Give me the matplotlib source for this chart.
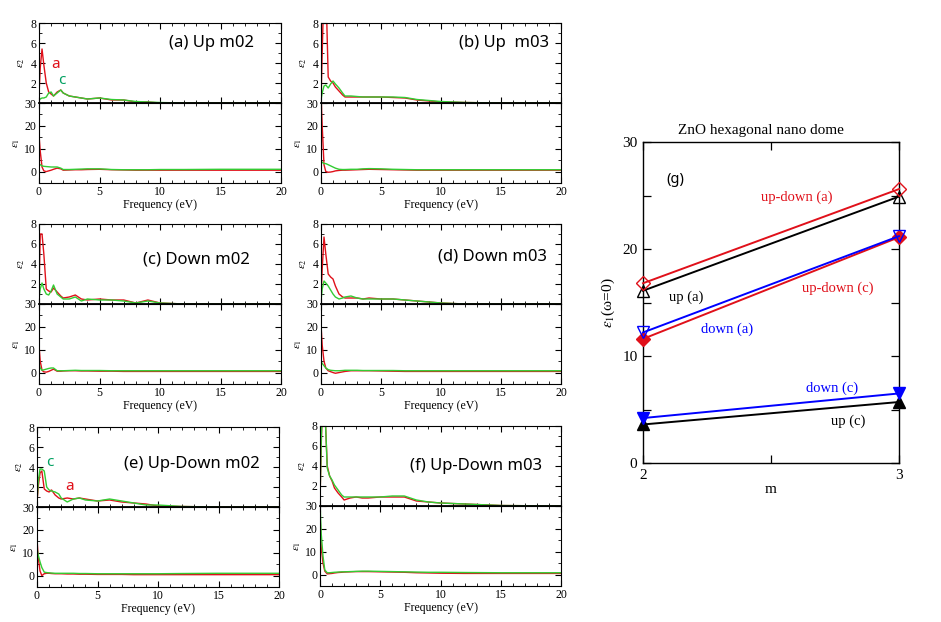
import matplotlib
matplotlib.use("Agg")
import matplotlib.pyplot as plt
from matplotlib.ticker import MultipleLocator, FixedLocator

plt.rcParams["font.family"] = ["Liberation Serif", "DejaVu Serif"]
plt.rcParams["mathtext.fontset"] = "stix"

W, H = 941, 622          # output size in pixels (dpi 100)
RED = "#e0101a"
GREEN = "#33cc33"
SANS = ["Noto Sans", "DejaVu Sans"]

# ─────────────────────────────────────────────────────────────────────
# dielectric spectra (a = red, c = green)
FREQ = [0, 0.1, 0.25, 0.4, 0.6, 0.8, 1.0, 1.2, 1.5, 1.8, 2.0, 2.5,
        3.0, 3.5, 4.0, 5.0, 6.0, 7.0, 8.0, 9.0, 10.0, 12.0, 15.0, 20.0]

UP_M02_E2_A = [0.8, 3.5, 5.4, 3.8, 2.0, 1.1, 0.9, 0.7, 1.1, 1.3, 1.0, 0.7,
               0.6, 0.5, 0.4, 0.5, 0.3, 0.3, 0.1, 0.1, 0.0, 0.0, 0.0, 0.0]
UP_M02_E2_C = [0.3, 0.4, 0.5, 0.5, 0.6, 1.0, 1.1, 0.7, 1.0, 1.3, 1.0, 0.7,
               0.6, 0.5, 0.4, 0.5, 0.35, 0.3, 0.15, 0.1, 0.05, 0.0, 0.0, 0.0]
UP_M02_E1_A = [16, 9, 2, 0.3, 0.0, 0.3, 0.6, 1.0, 1.5, 1.2, 0.6, 0.7,
               0.8, 0.8, 0.9, 1.0, 0.8, 0.7, 0.6, 0.6, 0.6, 0.6, 0.6, 0.6]
UP_M02_E1_C = [3.5, 3.0, 2.5, 2.3, 2.2, 2.1, 2.0, 2.0, 2.0, 1.5, 0.9, 0.9,
               1.0, 1.1, 1.2, 1.2, 0.9, 0.8, 0.8, 0.8, 0.9, 0.9, 1.0, 1.0]

UP_M03_E2_A = [0.0, 5.0, 12.0, 12.0, 2.6, 2.2, 2.0, 1.6, 1.2, 0.8, 0.6, 0.6,
               0.6, 0.6, 0.6, 0.6, 0.55, 0.5, 0.3, 0.2, 0.1, 0.05, 0.0, 0.0]
UP_M03_E2_C = [0.3, 1.0, 1.7, 1.8, 1.5, 1.9, 2.2, 1.9, 1.5, 1.0, 0.7, 0.7,
               0.65, 0.6, 0.6, 0.6, 0.6, 0.55, 0.35, 0.25, 0.15, 0.05, 0.0, 0.0]
UP_M03_E1_A = [34, 20, 3, 0.0, -0.3, -0.2, 0.0, 0.3, 0.5, 0.6, 0.6, 0.7,
               0.8, 0.9, 1.0, 0.9, 0.8, 0.7, 0.6, 0.6, 0.6, 0.6, 0.6, 0.6]
UP_M03_E1_C = [5.0, 4.0, 3.5, 3.5, 3.0, 2.5, 2.0, 1.5, 1.0, 0.9, 0.9, 1.0,
               1.0, 1.2, 1.3, 1.2, 1.0, 0.9, 0.8, 0.8, 0.8, 0.8, 0.8, 0.8]

DN_M02_E2_A = [1.0, 7.0, 7.0, 5.0, 1.5, 1.3, 1.2, 1.6, 1.2, 0.8, 0.6, 0.7,
               0.9, 0.5, 0.4, 0.5, 0.4, 0.4, 0.1, 0.4, 0.1, 0.0, 0.0, 0.0]
DN_M02_E2_C = [0.5, 1.5, 2.1, 1.5, 1.0, 0.9, 1.3, 1.9, 1.0, 0.7, 0.5, 0.5,
               0.7, 0.3, 0.5, 0.4, 0.4, 0.3, 0.1, 0.3, 0.1, 0.0, 0.0, 0.0]
DN_M02_E1_A = [12, 5, 1.0, 0.3, 0.2, 0.5, 1.0, 1.5, 0.6, 0.6, 0.7, 0.8,
               0.8, 0.7, 0.7, 0.6, 0.6, 0.5, 0.5, 0.5, 0.5, 0.5, 0.5, 0.5]
DN_M02_E1_C = [4.0, 2.0, 1.0, 1.2, 1.5, 1.8, 2.0, 2.0, 0.8, 0.8, 0.8, 0.9,
               1.0, 0.9, 0.9, 0.9, 0.8, 0.8, 0.8, 0.8, 0.8, 0.8, 0.8, 0.8]

DN_M03_E2_A = [0.5, 3.5, 6.7, 5.0, 3.0, 2.7, 2.5, 1.8, 1.0, 0.7, 0.6, 0.6,
               0.6, 0.5, 0.6, 0.5, 0.5, 0.4, 0.3, 0.2, 0.1, 0.0, 0.0, 0.0]
DN_M03_E2_C = [0.3, 1.5, 2.3, 2.1, 1.8, 1.4, 1.0, 0.7, 0.5, 0.6, 0.7, 0.8,
               0.6, 0.5, 0.5, 0.5, 0.5, 0.4, 0.3, 0.2, 0.1, 0.0, 0.0, 0.0]
DN_M03_E1_A = [21, 12, 5, 2, 0.8, 0.4, 0.0, -0.3, 0.0, 0.3, 0.5, 0.8,
               0.8, 0.8, 0.8, 0.7, 0.6, 0.5, 0.5, 0.5, 0.5, 0.5, 0.5, 0.5]
DN_M03_E1_C = [5.0, 4.0, 3.0, 2.0, 1.3, 1.0, 0.9, 0.8, 0.8, 0.9, 1.0, 1.0,
               1.0, 0.9, 0.9, 0.9, 0.9, 0.8, 0.8, 0.8, 0.8, 0.8, 0.8, 0.8]

UD_M02_E2_A = [0.5, 2.0, 3.4, 3.6, 1.8, 1.6, 1.5, 1.7, 1.2, 0.9, 0.8, 0.9,
               0.8, 0.9, 0.8, 0.6, 0.7, 0.5, 0.4, 0.3, 0.1, 0.05, 0.0, 0.0]
UD_M02_E2_C = [0.5, 2.5, 3.8, 3.8, 3.6, 2.0, 1.7, 1.6, 1.5, 1.3, 0.9, 0.5,
               0.8, 0.9, 0.7, 0.6, 0.8, 0.6, 0.4, 0.2, 0.2, 0.05, 0.0, 0.0]
UD_M02_E1_A = [16, 8, 2, 0.0, 0.8, 1.0, 1.0, 0.9, 0.8, 0.8, 0.8, 0.7,
               0.7, 0.6, 0.6, 0.5, 0.5, 0.5, 0.4, 0.4, 0.4, 0.4, 0.4, 0.4]
UD_M02_E1_C = [12, 9, 6, 3.5, 1.5, 1.3, 1.2, 1.1, 1.0, 1.0, 1.0, 1.0,
               1.0, 0.9, 0.9, 0.8, 0.8, 0.8, 0.8, 0.8, 0.8, 0.9, 1.0, 1.0]

UD_M03_E2_A = [0.5, 6.0, 12.0, 10.0, 4.0, 3.0, 2.5, 1.8, 1.3, 0.9, 0.6, 0.8,
               0.9, 0.8, 0.8, 0.9, 0.9, 0.9, 0.5, 0.4, 0.3, 0.2, 0.05, 0.0]
UD_M03_E2_C = [0.5, 6.5, 12.0, 10.0, 3.8, 3.0, 2.6, 2.1, 1.6, 1.1, 0.9, 0.9,
               0.9, 0.9, 0.9, 0.9, 1.0, 1.0, 0.6, 0.4, 0.3, 0.2, 0.05, 0.0]
UD_M03_E1_A = [27, 12, 5, 1.5, 0.3, 0.4, 0.5, 0.7, 0.9, 1.0, 1.1, 1.2,
               1.3, 1.3, 1.3, 1.2, 1.1, 1.0, 0.8, 0.7, 0.6, 0.5, 0.5, 0.5]
UD_M03_E1_C = [32, 18, 8, 2.0, 0.8, 0.8, 0.9, 1.0, 1.1, 1.2, 1.2, 1.3,
               1.4, 1.5, 1.5, 1.4, 1.3, 1.2, 1.1, 1.0, 1.0, 0.9, 0.8, 0.8]

# ε1(ω=0) versus m, panel (g)
M_VALUES = [2, 3]
UPDOWN_A = [16.8, 25.6]
UP_A = [16.1, 24.9]
DOWN_A = [12.2, 21.2]
UPDOWN_C = [11.6, 21.1]
DOWN_C = [4.2, 6.5]
UP_C = [3.6, 5.7]


# ─────────────────────────────────────────────────────────────────────
def px_rect(left, top, width, height):
    """pixel box (from top-left) -> figure fraction rect"""
    return [left / W, 1 - (top + height) / H, width / W, height / H]


def style_ticks(ax):
    ax.tick_params(which="both", direction="in", top=True, right=True,
                   labelsize=8.5, pad=2)
    ax.tick_params(which="major", length=4, width=0.8)
    ax.tick_params(which="minor", length=2, width=0.6)


def draw_spectrum(fig, left, top, width, e2a, e2c, e1a, e1c, label, label_pos):
    up = fig.add_axes(px_rect(left, top, width, 80))
    lo = fig.add_axes(px_rect(left, top + 80, width, 80))

    up.plot(FREQ, e2a, color=RED, lw=1.0)
    up.plot(FREQ, e2c, color=GREEN, lw=1.0)
    lo.plot(FREQ, e1a, color=RED, lw=1.0)
    lo.plot(FREQ, e1c, color=GREEN, lw=1.0)

    for ax in (up, lo):
        ax.set_xlim(0, 20)
        ax.xaxis.set_major_locator(MultipleLocator(5))
        ax.xaxis.set_minor_locator(MultipleLocator(1))
        style_ticks(ax)
        for s in ax.spines.values():
            s.set_linewidth(0.8)

    up.set_ylim(0, 8)
    up.yaxis.set_major_locator(FixedLocator([2, 4, 6, 8]))
    up.yaxis.set_minor_locator(MultipleLocator(1))
    up.tick_params(labelbottom=False)
    up.spines["bottom"].set_linewidth(1.3)
    up.set_ylabel(r"$\varepsilon_2$", fontsize=8, labelpad=2)

    lo.set_ylim(-5, 30)
    lo.yaxis.set_major_locator(FixedLocator([0, 10, 20, 30]))
    lo.yaxis.set_minor_locator(MultipleLocator(5))
    lo.set_ylabel(r"$\varepsilon_1$", fontsize=8, labelpad=2)
    lo.set_xlabel("Frequency (eV)", fontsize=8.5, labelpad=1)

    up.text(label_pos[0], label_pos[1], label, transform=up.transAxes,
            ha="right", va="center", fontsize=12, family=SANS)
    return up, lo


# ─────────────────────────────────────────────────────────────────────
fig = plt.figure(figsize=(W / 100, H / 100), dpi=100)

ax_a, _ = draw_spectrum(fig, 39, 23, 242, UP_M02_E2_A, UP_M02_E2_C,
                        UP_M02_E1_A, UP_M02_E1_C, "(a) Up m02", (0.89, 0.75))
draw_spectrum(fig, 321, 23, 240, UP_M03_E2_A, UP_M03_E2_C,
              UP_M03_E1_A, UP_M03_E1_C, "(b) Up  m03", (0.95, 0.75))
draw_spectrum(fig, 39, 224, 242, DN_M02_E2_A, DN_M02_E2_C,
              DN_M02_E1_A, DN_M02_E1_C, "(c) Down m02", (0.87, 0.56))
draw_spectrum(fig, 321, 224, 240, DN_M03_E2_A, DN_M03_E2_C,
              DN_M03_E1_A, DN_M03_E1_C, "(d) Down m03", (0.94, 0.59))
ax_e, _ = draw_spectrum(fig, 37, 427, 242, UD_M02_E2_A, UD_M02_E2_C,
                        UD_M02_E1_A, UD_M02_E1_C, "(e) Up-Down m02", (0.92, 0.54))
draw_spectrum(fig, 320, 426, 241, UD_M03_E2_A, UD_M03_E2_C,
              UD_M03_E1_A, UD_M03_E1_C, "(f) Up-Down m03", (0.92, 0.50))

# little a / c markers on (a) and (e)
ax_a.text(1.0, 3.8, "a", color=RED, fontsize=11, family=SANS, va="center")
ax_a.text(1.6, 2.3, "c", color="#00a060", fontsize=11, family=SANS, va="center")
ax_e.text(0.75, 4.5, "c", color="#00a060", fontsize=11, family=SANS, va="center")
ax_e.text(2.3, 2.05, "a", color=RED, fontsize=11, family=SANS, va="center")

# ─────────────────────────────────────────────────────────────────────
# panel (g)
g = fig.add_axes(px_rect(643, 142, 256, 321))
series = [
    (UP_C, "black", "^", 9, True),
    (DOWN_C, "blue", "v", 9, True),
    (UP_A, "black", "^", 9, False),
    (UPDOWN_C, RED, "D", 7.5, True),
    (DOWN_A, "blue", "v", 9, False),
    (UPDOWN_A, RED, "D", 7.5, False),
]
for vals, col, mk, ms, filled in series:
    g.plot(M_VALUES, vals, color=col, lw=1.4, marker=mk, ms=ms,
           mfc=col if filled else "none", mew=1.0, clip_on=False, zorder=3)

g.set_xlim(2, 3)
g.set_ylim(0, 30)
g.xaxis.set_major_locator(FixedLocator([2, 3]))
g.xaxis.set_minor_locator(FixedLocator([2.5]))
g.yaxis.set_major_locator(MultipleLocator(10))
g.yaxis.set_minor_locator(MultipleLocator(5))
g.tick_params(which="both", direction="in", top=True, right=True,
              labelsize=11, pad=4)
g.tick_params(which="major", length=6, width=0.9)
g.tick_params(which="minor", length=6, width=0.9)
for s in g.spines.values():
    s.set_linewidth(1.0)
g.set_xlabel("m", fontsize=11, labelpad=1)
g.set_ylabel(r"$\varepsilon_1$(ω=0)", fontsize=11, labelpad=4)
g.text(0.46, 1.015, "ZnO hexagonal nano dome", transform=g.transAxes,
       ha="center", va="bottom", fontsize=11)

g.text(2.09, 26.5, "(g)", fontsize=10.5, va="center", family=SANS)
g.text(2.60, 24.8, "up-down (a)", color=RED, fontsize=10.5, ha="center", va="center")
g.text(2.17, 15.5, "up (a)", color="black", fontsize=10.5, ha="center", va="center")
g.text(2.76, 16.3, "up-down (c)", color=RED, fontsize=10.5, ha="center", va="center")
g.text(2.33, 12.5, "down (a)", color="blue", fontsize=10.5, ha="center", va="center")
g.text(2.74, 7.0, "down (c)", color="blue", fontsize=10.5, ha="center", va="center")
g.text(2.80, 3.9, "up (c)", color="black", fontsize=10.5, ha="center", va="center")

fig.savefig("out.png", dpi=100)
